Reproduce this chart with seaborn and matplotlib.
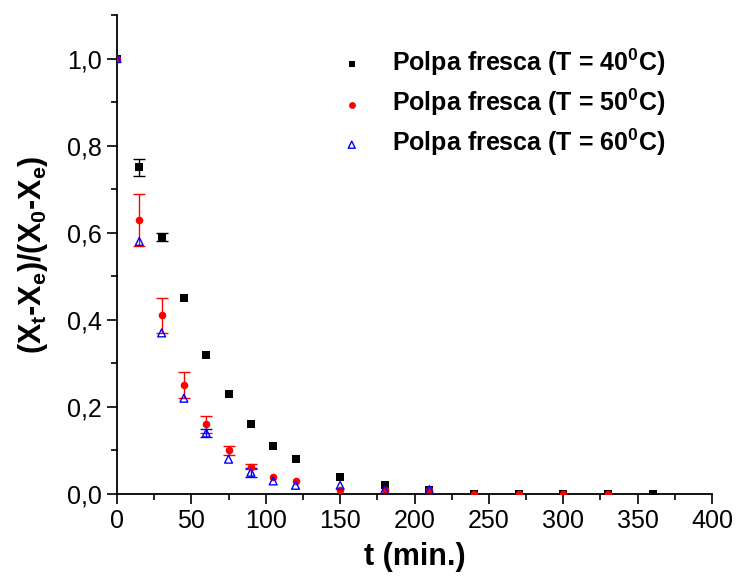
import numpy as np
import pandas as pd
import matplotlib
matplotlib.use("Agg")
import matplotlib.pyplot as plt
import seaborn as sns
from matplotlib.ticker import MultipleLocator, FuncFormatter

# ---- data ----
t_40 = [0, 15, 30, 45, 60, 75, 90, 105, 120, 150, 180, 210, 240, 270, 300, 330, 360]
y_40 = [1.0, 0.75, 0.59, 0.45, 0.32, 0.23, 0.16, 0.11, 0.08, 0.04, 0.02, 0.01, 0.0, 0.0, 0.0, 0.0, 0.0]
e_40 = [0, 0.02, 0.01, 0, 0, 0, 0, 0, 0, 0, 0, 0, 0, 0, 0, 0, 0]

t_50 = [0, 15, 30, 45, 60, 75, 90, 105, 120, 150, 180, 210, 240, 270, 300, 330]
y_50 = [1.0, 0.63, 0.41, 0.25, 0.16, 0.10, 0.063, 0.04, 0.03, 0.01, 0.01, 0.01, 0.0, 0.0, 0.0, 0.0]
e_50 = [0, 0.06, 0.04, 0.03, 0.02, 0.01, 0.006, 0, 0, 0, 0, 0, 0, 0, 0, 0]

t_60 = [0, 15, 30, 45, 60, 75, 90, 105, 120, 150, 180, 210]
y_60 = [1.0, 0.58, 0.37, 0.22, 0.14, 0.08, 0.05, 0.03, 0.02, 0.02, 0.01, 0.01]
e_60 = [0, 0, 0, 0, 0.01, 0, 0.01, 0, 0, 0, 0, 0]

labels = ["Polpa fresca (T = 40$^{0}$C)",
          "Polpa fresca (T = 50$^{0}$C)",
          "Polpa fresca (T = 60$^{0}$C)"]
xticks = [0, 50, 100, 150, 200, 250, 300, 350, 400]
yticks = [0.0, 0.2, 0.4, 0.6, 0.8, 1.0]

sns.set_style("ticks")
plt.rcParams["font.family"] = ["Liberation Sans", "DejaVu Sans"]
plt.rcParams["mathtext.fontset"] = "custom"
plt.rcParams["mathtext.rm"] = "Liberation Sans:bold"
plt.rcParams["mathtext.it"] = "Liberation Sans:bold"
plt.rcParams["mathtext.bf"] = "Liberation Sans:bold"
for k in ["text.color", "axes.labelcolor", "xtick.color", "ytick.color", "axes.edgecolor"]:
    plt.rcParams[k] = "black"

fig = plt.figure(figsize=(7.38, 5.88), dpi=100)
ax = fig.add_axes([117/738, 94/588, 595/738, 479/588])

series = [
    (t_40, y_40, e_40, "black", "s", "black", labels[0]),
    (t_50, y_50, e_50, "red", "o", "red", labels[1]),
    (t_60, y_60, e_60, "blue", "^", "none", labels[2]),
]

for t, y, e, col, mk, fc, lab in series:
    df = pd.DataFrame({"t": t, "y": y, "e": e})
    eb = df[df["e"] > 0]
    ax.errorbar(eb["t"], eb["y"], yerr=eb["e"], fmt="none", ecolor=col,
                elinewidth=1.0, capsize=4, capthick=1.0, zorder=2)
    sns.scatterplot(data=df, x="t", y="y", ax=ax, marker=mk, s=30 if mk != "^" else 32,
                    color=col, facecolor=fc, edgecolor=col,
                    linewidth=0 if mk != "^" else 1.0, label=lab, zorder=3)

ax.set_xlim(0, 400)
ax.set_ylim(0, 1.1)
ax.set_xticks(xticks)
ax.set_yticks(yticks)
ax.xaxis.set_minor_locator(MultipleLocator(25))
ax.yaxis.set_minor_locator(MultipleLocator(0.1))
ax.yaxis.set_major_formatter(FuncFormatter(lambda v, p: f"{v:.1f}".replace(".", ",")))
ax.xaxis.set_major_formatter(FuncFormatter(lambda v, p: f"{int(round(v))}"))
ax.tick_params(which="major", length=7, width=1.2, labelsize=18, direction="out", pad=4)
ax.tick_params(which="minor", length=4, width=1.2, direction="out")
for s in ["top", "right"]:
    ax.spines[s].set_visible(False)
for s in ["left", "bottom"]:
    ax.spines[s].set_linewidth(1.3)

ax.set_xlabel("t (min.)", fontsize=22, fontweight="bold", labelpad=6)
ax.set_ylabel("(X$_t$-X$_e$)/(X$_0$-X$_e$)", fontsize=22, fontweight="bold", labelpad=12)

leg = ax.legend(loc="upper right", bbox_to_anchor=(0.938, 0.955), frameon=False,
                prop={"size": 18, "weight": "bold"}, handlelength=1.0, handletextpad=1.1,
                labelspacing=0.35, markerscale=0.9, borderaxespad=0)

fig.savefig("out.png", dpi=100)
